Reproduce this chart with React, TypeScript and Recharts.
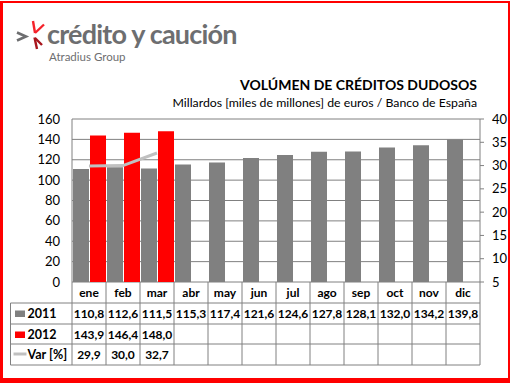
import React from 'react';
import { ComposedChart, Bar, Line, XAxis, YAxis, CartesianGrid } from 'recharts';

const months = ['ene', 'feb', 'mar', 'abr', 'may', 'jun', 'jul', 'ago', 'sep', 'oct', 'nov', 'dic'];
const vol2011 = [110.8, 112.6, 111.5, 115.3, 117.4, 121.6, 124.6, 127.8, 128.1, 132.0, 134.2, 139.8];
const vol2012 = [143.9, 146.4, 148.0, null, null, null, null, null, null, null, null, null];
const varPct = [29.9, 30.0, 32.7, null, null, null, null, null, null, null, null, null];
const leftTicks = [0, 20, 40, 60, 80, 100, 120, 140, 160];
const rightTicks = [5, 10, 15, 20, 25, 30, 35, 40];

const FONT = 'Lato, "Open Sans", sans-serif';
const GRID = '#808080';
const GREY = '#808080';
const RED = '#ff0000';
const VAR = '#c0c0c0';

const data = months.map((m, i) => ({ month: m, y2011: vol2011[i], y2012: vol2012[i], var: varPct[i] }));

const fmt = (v: number | null) => (v == null ? '' : v.toFixed(1).replace('.', ','));

// rows of the data table under the plot: header, 2011, 2012, Var
const rowOffsets = [0, 21, 42, 62, 83];

const TableColumn = (props: any) => {
  const { x, y, payload, index } = props;
  const half = payload && payload.offset ? payload.offset : 17;
  const left = x - half;
  const right = x + half;
  const rows = rowOffsets.map((d) => y + d);
  const cells = [months[index], fmt(vol2011[index]), fmt(vol2012[index]), fmt(varPct[index])];
  const legLeft = left - 61.5;
  const line = { stroke: GRID, strokeWidth: 1 };
  return (
    <g>
      <line x1={right} x2={right} y1={rows[0]} y2={rows[4]} {...line} />
      {index === 0 && <line x1={left} x2={left} y1={rows[0]} y2={rows[4]} {...line} />}
      {rows.slice(1).map((ry, k) => (
        <line key={k} x1={left} x2={right} y1={ry} y2={ry} {...line} />
      ))}
      {cells.map((c, k) => (
        <text
          key={k}
          x={x}
          y={(rows[k] + rows[k + 1]) / 2 + 4.5}
          textAnchor="middle"
          fontFamily={FONT}
          fontWeight={700}
          fontSize={12}
          fill="#000"
        >
          {c}
        </text>
      ))}
      {index === 0 && (
        <g>
          <line x1={legLeft} x2={legLeft} y1={rows[1]} y2={rows[4]} {...line} />
          {rows.slice(1).map((ry, k) => (
            <line key={k} x1={legLeft} x2={left} y1={ry} y2={ry} {...line} />
          ))}
          <rect x={legLeft + 4.5} y={rows[1] + 7.5} width={10} height={6.5} fill={GREY} />
          <rect x={legLeft + 4.5} y={rows[2] + 7.5} width={10} height={6.5} fill={RED} />
          <line x1={legLeft + 3} x2={legLeft + 16} y1={rows[3] + 10} y2={rows[3] + 10} stroke={VAR} strokeWidth={3} />
          {['2011', '2012', 'Var [%]'].map((t, k) => (
            <text
              key={t}
              x={legLeft + 17}
              y={(rows[k + 1] + rows[k + 2]) / 2 + 4.5}
              fontFamily={FONT}
              fontWeight={700}
              fontSize={12.5}
              fill="#000"
            >
              {t}
            </text>
          ))}
        </g>
      )}
    </g>
  );
};

export default function App() {
  return (
    <div style={{ position: 'absolute', left: 0, top: 0, width: 510, height: 384, background: '#fff', fontFamily: FONT }}>
      <div
        style={{
          position: 'absolute',
          left: 0,
          top: 1,
          width: 510,
          height: 382,
          boxSizing: 'border-box',
          borderTop: '2.5px solid #ff0000',
          borderLeft: '3px solid #ff0000',
          borderRight: '2.5px solid #ff0000',
          borderBottom: '5px solid #ff0000',
        }}
      />
      <svg style={{ position: 'absolute', left: 0, top: 0 }} width={60} height={60}>
        <polyline points="17,32.5 26,36.5 17,40.5" fill="none" stroke="#6d6e70" strokeWidth={2.6} />
        <line x1={33} y1={21} x2={35} y2={33} stroke="#f5222a" strokeWidth={2.4} />
        <line x1={35} y1={33} x2={44} y2={24.5} stroke="#f5222a" strokeWidth={2.4} />
        <line x1={34.5} y1={37.5} x2={37} y2={49} stroke="#a8151c" strokeWidth={2.4} />
        <line x1={35} y1={38} x2={42} y2={45} stroke="#a8151c" strokeWidth={2.4} />
      </svg>
      <div
        style={{
          position: 'absolute',
          left: 47,
          top: 18,
          fontSize: 27,
          fontWeight: 700,
          color: '#6d6e70',
          letterSpacing: -0.8,
          whiteSpace: 'nowrap',
          lineHeight: '32px',
        }}
      >
        crédito y caución
      </div>
      <div
        style={{ position: 'absolute', left: 49, top: 50, fontSize: 11.5, color: '#6d6e70', whiteSpace: 'nowrap', lineHeight: '14px' }}
      >
        Atradius Group
      </div>
      <div
        style={{ position: 'absolute', right: 33, top: 76, fontSize: 14, fontWeight: 700, color: '#000', whiteSpace: 'nowrap', lineHeight: '18px' }}
      >
        VOLÚMEN DE CRÉDITOS DUDOSOS
      </div>
      <div
        style={{ position: 'absolute', right: 33, top: 95, fontSize: 12.3, color: '#000', whiteSpace: 'nowrap', lineHeight: '16px' }}
      >
        Millardos [miles de millones] de euros / Banco de España
      </div>
      <div style={{ position: 'absolute', left: 0, top: 0 }}>
        <ComposedChart
          width={510}
          height={384}
          data={data}
          margin={{ top: 119, right: 0, left: 12, bottom: 19 }}
          barCategoryGap={1}
          barGap={1}
        >
          <CartesianGrid yAxisId="left" horizontal vertical={false} stroke={GRID} />
          <XAxis
            dataKey="month"
            height={83}
            interval={0}
            axisLine={false}
            tickLine={false}
            tickSize={0}
            tickMargin={0}
            tick={<TableColumn />}
          />
          <YAxis
            yAxisId="left"
            width={60}
            domain={[0, 160]}
            ticks={leftTicks}
            interval={0}
            axisLine={{ stroke: GRID }}
            tickLine={false}
            tickMargin={6}
            tick={{ fontFamily: FONT, fontSize: 13, fill: '#000' }}
          />
          <YAxis
            yAxisId="right"
            orientation="right"
            width={30}
            domain={[5, 40]}
            ticks={rightTicks}
            interval={0}
            axisLine={{ stroke: GRID }}
            tickLine={{ stroke: GRID }}
            tickSize={4}
            tickMargin={8}
            tick={{ fontFamily: FONT, fontSize: 13, fill: '#000', textAnchor: 'start' }}
          />
          <Bar yAxisId="left" dataKey="y2011" fill={GREY} isAnimationActive={false} />
          <Bar yAxisId="left" dataKey="y2012" fill={RED} isAnimationActive={false} />
          <Line
            yAxisId="right"
            dataKey="var"
            type="linear"
            stroke={VAR}
            strokeWidth={3}
            dot={false}
            isAnimationActive={false}
          />
        </ComposedChart>
      </div>
    </div>
  );
}
